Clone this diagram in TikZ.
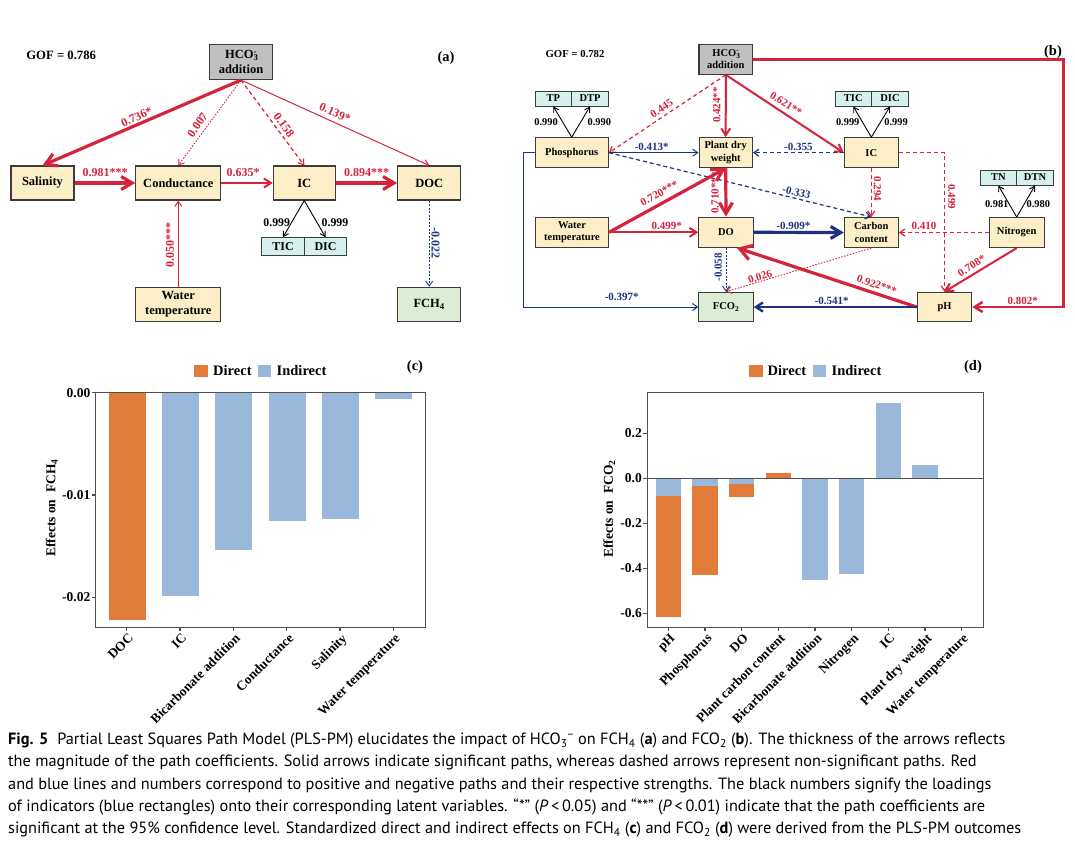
\documentclass[tikz,border=0pt]{standalone}
\usepackage{fontspec}
\setmainfont{Liberation Serif}
\newfontfamily\capfont{PT Sans}
\usetikzlibrary{arrows.meta}
\definecolor{rd}{RGB}{213,35,60}
\definecolor{nv}{RGB}{28,52,128}
\definecolor{beige}{RGB}{252,238,198}
\definecolor{teal}{RGB}{214,240,238}
\definecolor{grn}{RGB}{221,236,212}
\definecolor{gryf}{RGB}{192,192,192}
\definecolor{bline}{RGB}{60,60,60}
\definecolor{orb}{RGB}{224,123,57}
\definecolor{blb}{RGB}{154,185,218}
\definecolor{frm}{RGB}{80,80,80}
\newcommand{\fsz}[2]{\fontsize{#1}{#2}\selectfont}
\newcommand{\subsup}[2]{\rlap{\textsubscript{#1}}\textsuperscript{#2}}
\tikzset{
  every node/.style={inner sep=0pt},
  boxa/.style={draw=bline, line width=1.1pt, fill=beige, align=center, font=\fsz{12.5}{15}\bfseries, minimum width=63pt, minimum height=34pt},
  boxb/.style={draw=bline, line width=1.1pt, fill=beige, align=center, font=\fsz{10.5}{12.6}\bfseries, minimum width=54pt, minimum height=30pt},
  inda/.style={draw=bline, line width=0.9pt, fill=teal, font=\fsz{12}{14}\bfseries, minimum width=42.5pt, minimum height=17.3pt},
  indb/.style={draw=bline, line width=0.9pt, fill=teal, font=\fsz{10.5}{12}\bfseries, minimum width=36.6pt, minimum height=15pt},
  la/.style={font=\fsz{12}{14}\bfseries, text=rd},
  lb/.style={font=\fsz{11}{13}\bfseries, text=rd},
  ka/.style={font=\fsz{11.8}{14}\bfseries},
  kb/.style={font=\fsz{10.4}{12}\bfseries},
  rk/.style={draw=rd, line width=3.2pt, -{Straight Barb[length=11pt,width=13pt]}},
  rm/.style={draw=rd, line width=2pt, -{Straight Barb[length=7pt,width=9pt]}},
  rt/.style={draw=rd, line width=1pt, -{Straight Barb[length=5pt,width=7pt]}},
  rdsh/.style={draw=rd, line width=1.2pt, dash pattern=on 4pt off 3pt, -{Straight Barb[length=5pt,width=7pt]}},
  rdot/.style={draw=rd, line width=0.9pt, dash pattern=on 1.5pt off 1.5pt, -{Straight Barb[length=5pt,width=7pt]}},
  bk/.style={draw=nv, line width=3.2pt, -{Straight Barb[length=10pt,width=12pt]}},
  bm/.style={draw=nv, line width=2.4pt, -{Straight Barb[length=7pt,width=9pt]}},
  bt/.style={draw=nv, line width=1pt, -{Straight Barb[length=5pt,width=7pt]}},
  bdsh/.style={draw=nv, line width=1.2pt, dash pattern=on 4pt off 3pt, -{Straight Barb[length=5pt,width=7pt]}},
  bdot/.style={draw=nv, line width=0.9pt, dash pattern=on 2pt off 1.5pt, -{Straight Barb[length=5pt,width=7pt]}},
  kt/.style={draw=black, line width=0.9pt, -{Straight Barb[length=5pt,width=6pt]}},
  plotline/.style={draw=frm, line width=1.3pt},
  tklab/.style={font=\fsz{13.5}{15}\bfseries},
  xlab/.style={font=\fsz{13.3}{15}\bfseries, rotate=45, anchor=north east},
  legtxt/.style={font=\fsz{14.5}{16}\bfseries, anchor=west},
  captxt/.style={font=\capfont\fsz{16.3}{19}, anchor=base west},
}
\begin{document}
\begin{tikzpicture}[x=1pt,y=-1pt]
\useasboundingbox (0,0) rectangle (1075,849);
\fill[white] (0,0) rectangle (1075,849);

% ================= Panel (a) =================
\node[font=\fsz{12.7}{14}\bfseries] (gofa) at (61.2,55) {GOF = 0.786};
\node[font=\fsz{14.5}{16}\bfseries] (taga) at (446,58) {(a)};
\node[boxa, fill=gryf, minimum height=35pt] (hA) at (241,62) {HCO\subsup{3}{-}\\addition};
\node[boxa] (sal) at (42.5,183) {Salinity};
\node[boxa, minimum width=85pt] (cond) at (178.3,183) {Conductance};
\node[boxa, minimum width=62pt] (icA) at (304.3,183) {IC};
\node[boxa] (doc) at (429.2,183) {DOC};
\node[inda] (ticA) at (283,246.3) {TIC};
\node[inda] (dicA) at (325.5,246.3) {DIC};
\node[boxa, minimum width=85pt, minimum height=34.4pt] (wtA) at (178.3,304.5) {Water\\temperature};
\node[boxa, fill=grn, minimum height=34.4pt] (fch) at (429.2,304.5) {FCH\textsubscript{4}};

\draw[rk] (hA.south) -- (sal.north);
\draw[rdot] (hA.south) -- (cond.north);
\draw[rdsh] (hA.south) -- (icA.north);
\draw[rt] (hA.south) -- (doc.north);
\draw[rk] (sal.east) -- (cond.west);
\draw[rm] (cond.east) -- (icA.west);
\draw[rk] (icA.east) -- (doc.west);
\draw[rt] (wtA.north) -- (cond.south);
\draw[kt] (icA.south) -- (ticA.north);
\draw[kt] (icA.south) -- (dicA.north);
\draw[bdot] (doc.south) -- (fch.north);

\node[la, rotate=24.2] (a1) at (136.7,117) {0.736*};
\node[la, rotate=55.4] (a2) at (197.5,125) {0.007};
\node[la, rotate=-54.5] (a3) at (284,125) {0.158};
\node[la, rotate=-25.2] (a4) at (335,112.7) {0.139*};
\node[la] (a5) at (105,172.7) {0.981***};
\node[la] (a6) at (243,172.7) {0.635*};
\node[la] (a7) at (366.7,172.7) {0.894***};
\node[la, rotate=90] (a8) at (170,245) {0.050***};
\node[la, text=nv, rotate=-90] (a9) at (435.5,243.3) {-0.022};
\node[ka] (a10) at (276.7,222.3) {0.999};
\node[ka] (a11) at (335,222.3) {0.999};

% ================= Panel (b) =================
\node[font=\fsz{10.7}{12}\bfseries] (gofb) at (575,54) {GOF = 0.782};
\node[font=\fsz{14.5}{16}\bfseries] (tagb) at (1053,52) {(b)};
\node[boxb, fill=gryf, minimum width=53.7pt, minimum height=29.6pt, font=\fsz{10.5}{12}\bfseries] (hB) at (725.8,59.5) {HCO\subsup{3}{-}\\addition};
\node[indb] (tp) at (553.3,98.5) {TP};
\node[indb] (dtp) at (590,98.5) {DTP};
\node[boxb, minimum width=73.3pt] (phos) at (571.7,152.7) {Phosphorus};
\node[boxb, minimum width=53.3pt] (pdw) at (725.7,152.7) {Plant dry\\weight};
\node[boxb] (icB) at (871.3,152.7) {IC};
\node[indb] (ticB) at (853.3,98.5) {TIC};
\node[indb] (dicB) at (890,98.5) {DIC};
\node[boxb, minimum width=73pt] (wtB) at (572,232.3) {Water\\temperature};
\node[boxb, minimum width=54.3pt] (dob) at (726,232.3) {DO};
\node[boxb] (cc) at (871.3,232.5) {Carbon\\content};
\node[indb] (tn) at (998.3,177.5) {TN};
\node[indb] (dtn) at (1035,177.5) {DTN};
\node[boxb, minimum width=54.7pt] (nit) at (1016.7,232.5) {Nitrogen};
\node[boxb, fill=grn, minimum width=54.3pt, minimum height=29.4pt] (fco) at (726,307) {FCO\textsubscript{2}};
\node[boxb, minimum width=54.4pt, minimum height=29.4pt] (ph) at (944.5,307) {pH};

\coordinate (cB1) at (1063.3,59.5);
\coordinate (cB2) at (1063.3,307);
\coordinate (cP1) at (523.3,152.7);
\coordinate (cP2) at (523.3,307);

\draw[kt] (phos.north) -- (tp.south);
\draw[kt] (phos.north) -- (dtp.south);
\draw[kt] (icB.north) -- (ticB.south);
\draw[kt] (icB.north) -- (dicB.south);
\draw[kt] (nit.north) -- (tn.south);
\draw[kt] (nit.north) -- (dtn.south);

\draw[rdsh] (hB.south) -- (phos.east);
\draw[rm] (hB.south) -- (pdw.north);
\draw[rm] (hB.south) -- (icB.west);
\draw[rm, line width=2.5pt, -{Straight Barb[length=8pt,width=10pt]}] (hB.east) -- (cB1) -- (cB2) -- (ph.east);
\draw[bt] (phos.east) -- (pdw.west);
\draw[bdsh] (icB.west) -- (pdw.east);
\draw[bdsh] (phos.east) -- (cc.north);
\draw[bt] (phos.west) -- (cP1) -- (cP2) -- (fco.west);
\draw[rk] (wtB.east) -- (pdw.south);
\draw[rm] (wtB.east) -- (dob.west);
\draw[rk] (pdw.south) -- (dob.north);
\draw[bk] (dob.east) -- (cc.west);
\draw[rdsh] (icB.south) -- (cc.north);
\draw[rdsh] (icB.east) -| (ph.north);
\draw[rdsh] (nit.west) -- (cc.east);
\draw[rm] (nit.south) -- (ph.north);
\draw[rk, -{Straight Barb[length=12pt,width=15pt]}] (ph.west) -- (dob.-55);
\draw[rdot] (cc.south) -- (fco.north);
\draw[bdot] (dob.south) -- (fco.north);
\draw[bm] (ph.west) -- (fco.east);

\node[lb, rotate=33.7] (b1) at (661.7,108.3) {0.445};
\node[lb, rotate=90] (b2) at (716.7,105) {0.424**};
\node[lb, rotate=-32.8] (b3) at (786,104) {0.621**};
\node[lb, text=nv] (b4) at (651.7,146.7) {-0.413*};
\node[lb, text=nv] (b5) at (798.3,146.5) {-0.355};
\node[lb, text=nv, rotate=-13.7] (b6) at (796.5,192.3) {-0.333};
\node[lb, text=nv] (b7) at (621.7,297.3) {-0.397*};
\node[lb, rotate=28.8] (b8) at (659.3,193.3) {0.720***};
\node[lb] (b9) at (666.7,225.7) {0.499*};
\node[lb, rotate=90] (b10) at (715,193) {0.710***};
\node[lb, text=nv] (b11) at (793.3,226.3) {-0.909*};
\node[lb, rotate=-90] (b12) at (877.5,189) {0.294};
\node[lb, rotate=-90] (b13) at (951.7,196.7) {0.499};
\node[lb] (b14) at (924,225.7) {0.410};
\node[lb, rotate=31.8] (b15) at (971.7,266) {0.708*};
\node[lb, rotate=-18.2] (b16) at (876.7,285) {0.922***};
\node[lb, rotate=17.3] (b17) at (760,276.7) {0.026};
\node[lb, text=nv, rotate=90] (b18) at (718.3,267.3) {-0.058};
\node[lb, text=nv] (b19) at (831.7,301.3) {-0.541*};
\node[lb] (b20) at (1022.7,301) {0.802*};
\node[kb] (k1) at (546,121.7) {0.990};
\node[kb] (k2) at (599.3,121.7) {0.990};
\node[kb] (k3) at (847.7,121.7) {0.999};
\node[kb] (k4) at (896,121.7) {0.999};
\node[kb] (k5) at (996.7,204) {0.981};
\node[kb] (k6) at (1038.3,204) {0.980};

% ================= Panel (c) =================
\fill[orb] (194.3,365) rectangle (208.3,377.3);
\node[legtxt] (lc1) at (213,371) {Direct};
\fill[blb] (258,365) rectangle (271,377.3);
\node[legtxt] (lc2) at (276.5,371) {Indirect};
\node[font=\fsz{14.5}{16}\bfseries] (tagc) at (415,367) {(c)};

\fill[orb] (108.7,392.7) rectangle (145.7,620);
\fill[blb] (162,392.7) rectangle (199.3,595.7);
\fill[blb] (215.3,392.7) rectangle (252.3,550);
\fill[blb] (268.7,392.7) rectangle (306,521);
\fill[blb] (322,392.7) rectangle (359.3,519);
\fill[blb] (375.3,392.7) rectangle (412.3,398.7);
\draw[plotline] (95.7,392.7) rectangle (425.7,627.3);
\foreach \v/\y [count=\i] in {0.00/392.7,-0.01/495,-0.02/597.3}{
  \draw[plotline] (95.7,\y) -- (91.7,\y);
  \node[tklab, anchor=east] (cy\i) at (90.5,\y) {\v};
}
\foreach \x/\t [count=\i] in {126.7/DOC,180/IC,233.3/Bicarbonate addition,286.7/Conductance,340/Salinity,393.3/Water temperature}{
  \draw[plotline] (\x,627.3) -- (\x,631.3);
  \node[xlab] (cx\i) at (\x+1,632.5) {\t};
}
\node[font=\fsz{13.5}{15}\bfseries, rotate=90] (ylc) at (51.7,508) {Effects on\ \ FCH\textsubscript{4}};

% ================= Panel (d) =================
\fill[orb] (749,365) rectangle (762.7,377.3);
\node[legtxt] (ld1) at (767.5,371) {Direct};
\fill[blb] (812.7,365) rectangle (826.3,377.3);
\node[legtxt] (ld2) at (831.5,371) {Indirect};
\node[font=\fsz{14.5}{16}\bfseries] (tagd) at (973,367) {(d)};

\fill[blb] (655.7,478.3) rectangle (681,495.7);
\fill[orb] (655.7,495.7) rectangle (681,617);
\fill[blb] (692.3,478.3) rectangle (717.7,486);
\fill[orb] (692.3,486) rectangle (717.7,575);
\fill[blb] (729,478.3) rectangle (754.3,484);
\fill[orb] (729,484) rectangle (754.3,496.7);
\fill[orb] (765.7,472.7) rectangle (791,478.3);
\fill[blb] (802.3,478.3) rectangle (827.7,580);
\fill[blb] (839,478.3) rectangle (864.3,574);
\fill[blb] (875.7,402.7) rectangle (901,478.3);
\fill[blb] (912.3,465) rectangle (937.7,478.3);
\draw[plotline] (647.3,478.3) -- (983.3,478.3);
\draw[plotline] (647.3,392.7) rectangle (983.3,627.3);
\foreach \v/\y [count=\i] in {0.2/433.3,0.0/478.3,-0.2/523.3,-0.4/568.3,-0.6/613.3}{
  \draw[plotline] (647.3,\y) -- (643.3,\y);
  \node[tklab, anchor=east] (dy\i) at (642,\y) {\v};
}
\foreach \x/\t [count=\i] in {668.3/pH,705/Phosphorus,741.7/DO,778.3/Plant carbon content,815/Bicarbonate addition,851.7/Nitrogen,888.3/IC,925/Plant dry weight,961.7/Water temperature}{
  \draw[plotline] (\x,627.3) -- (\x,631.3);
  \node[xlab] (dx\i) at (\x+1,632.5) {\t};
}
\node[font=\fsz{13.5}{15}\bfseries, rotate=90] (yld) at (609.3,509) {Effects on\ \ FCO\textsubscript{2}};

% ================= Caption =================
\node[captxt] (cap1) at (8,744.5) {{\bfseries Fig. 5}\hspace{0.55em}Partial Least Squares Path Model (PLS-PM) elucidates the impact of HCO\textsubscript{3}\textsuperscript{−} on FCH\textsubscript{4} (\textbf{a}) and FCO\textsubscript{2} (\textbf{b}). The thickness of the arrows reflects};
\node[captxt] (cap2) at (8,766.7) {the magnitude of the path coefficients. Solid arrows indicate significant paths, whereas dashed arrows represent non-significant paths. Red};
\node[captxt] (cap3) at (8,789) {and blue lines and numbers correspond to positive and negative paths and their respective strengths. The black numbers signify the loadings};
\node[captxt] (cap4) at (8,811.2) {of indicators (blue rectangles) onto their corresponding latent variables. “*” (\textit{P}\,<\,0.05) and “**” (\textit{P}\,<\,0.01) indicate that the path coefficients are};
\node[captxt] (cap5) at (8,833.5) {significant at the 95\% confidence level. Standardized direct and indirect effects on FCH\textsubscript{4} (\textbf{c}) and FCO\textsubscript{2} (\textbf{d}) were derived from the PLS-PM outcomes};
\end{tikzpicture}
\end{document}
